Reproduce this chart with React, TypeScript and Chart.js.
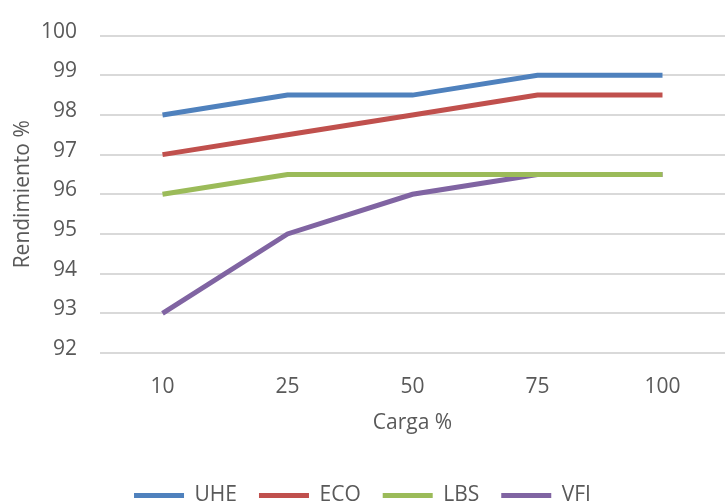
import React, { useEffect, useRef } from "react";
import { Chart, registerables } from "chart.js";

Chart.register(...registerables);

const categories = ["10", "25", "50", "75", "100"];
const seriesNames = ["UHE", "ECO", "LBS", "VFI"];
const uhe = [98, 98.5, 98.5, 99, 99];
const eco = [97, 97.5, 98, 98.5, 98.5];
const lbs = [96, 96.5, 96.5, 96.5, 96.5];
const vfi = [93, 95, 96, 96.5, 96.5];
const colors = ["#4F81BD", "#C0504D", "#9BBB59", "#8064A2"];
const yMin = 92;
const yMax = 100;

const FONT = "'Open Sans', sans-serif";
const TEXT = "#595959";
const W = 727;
const H = 516;

export default function App() {
  const ref = useRef<HTMLCanvasElement | null>(null);

  useEffect(() => {
    document.body.style.margin = "0";
    document.body.style.overflow = "hidden";
    if (!ref.current) return;
    const values = [uhe, eco, lbs, vfi];
    const chart = new Chart(ref.current, {
      type: "line",
      data: {
        labels: categories,
        datasets: seriesNames.map((name, i) => ({
          label: name,
          data: values[i],
          borderColor: colors[i],
          backgroundColor: colors[i],
          borderWidth: 5,
          pointRadius: 0,
          tension: 0,
          fill: false,
        })),
      },
      options: {
        animation: false,
        responsive: false,
        devicePixelRatio: 1,
        layout: { padding: { top: 31, right: 2, left: 0, bottom: 0 } },
        plugins: {
          tooltip: { enabled: false },
          legend: {
            position: "bottom",
            labels: {
              boxWidth: 50,
              boxHeight: 5,
              padding: 22,
              color: TEXT,
              font: { family: FONT, size: 21 },
              generateLabels: (c: any) =>
                Chart.defaults.plugins.legend.labels
                  .generateLabels(c)
                  .map((l: any) => ({ ...l, lineWidth: 0 })),
            },
          },
        },
        scales: {
          x: {
            type: "category",
            offset: true,
            grid: { display: false, drawTicks: false },
            border: { display: false },
            ticks: {
              color: TEXT,
              font: { family: FONT, size: 21 },
              padding: 21,
            },
            title: {
              display: true,
              text: "Carga %",
              color: TEXT,
              font: { family: FONT, size: 21 },
              padding: { top: 4, bottom: 27 },
            },
            afterFit: (s: any) => {
              s.height = 110;
            },
          },
          y: {
            type: "linear",
            min: yMin,
            max: yMax,
            grid: { color: "#D9D9D9", lineWidth: 2, drawTicks: false },
            border: { display: false },
            ticks: {
              stepSize: 1,
              color: TEXT,
              font: { family: FONT, size: 21 },
              padding: 23,
              labelOffset: -4,
            },
            title: {
              display: true,
              text: "Rendimiento %",
              color: TEXT,
              font: { family: FONT, size: 21 },
              padding: { top: 10, bottom: 0 },
            },
            afterFit: (s: any) => {
              s.width = 100;
            },
          },
        },
      },
    });
    return () => chart.destroy();
  }, []);

  return (
    <div style={{ position: "fixed", left: 0, top: 0, width: W, height: H }}>
      <canvas ref={ref} width={W} height={H} style={{ width: W, height: H }} />
    </div>
  );
}
